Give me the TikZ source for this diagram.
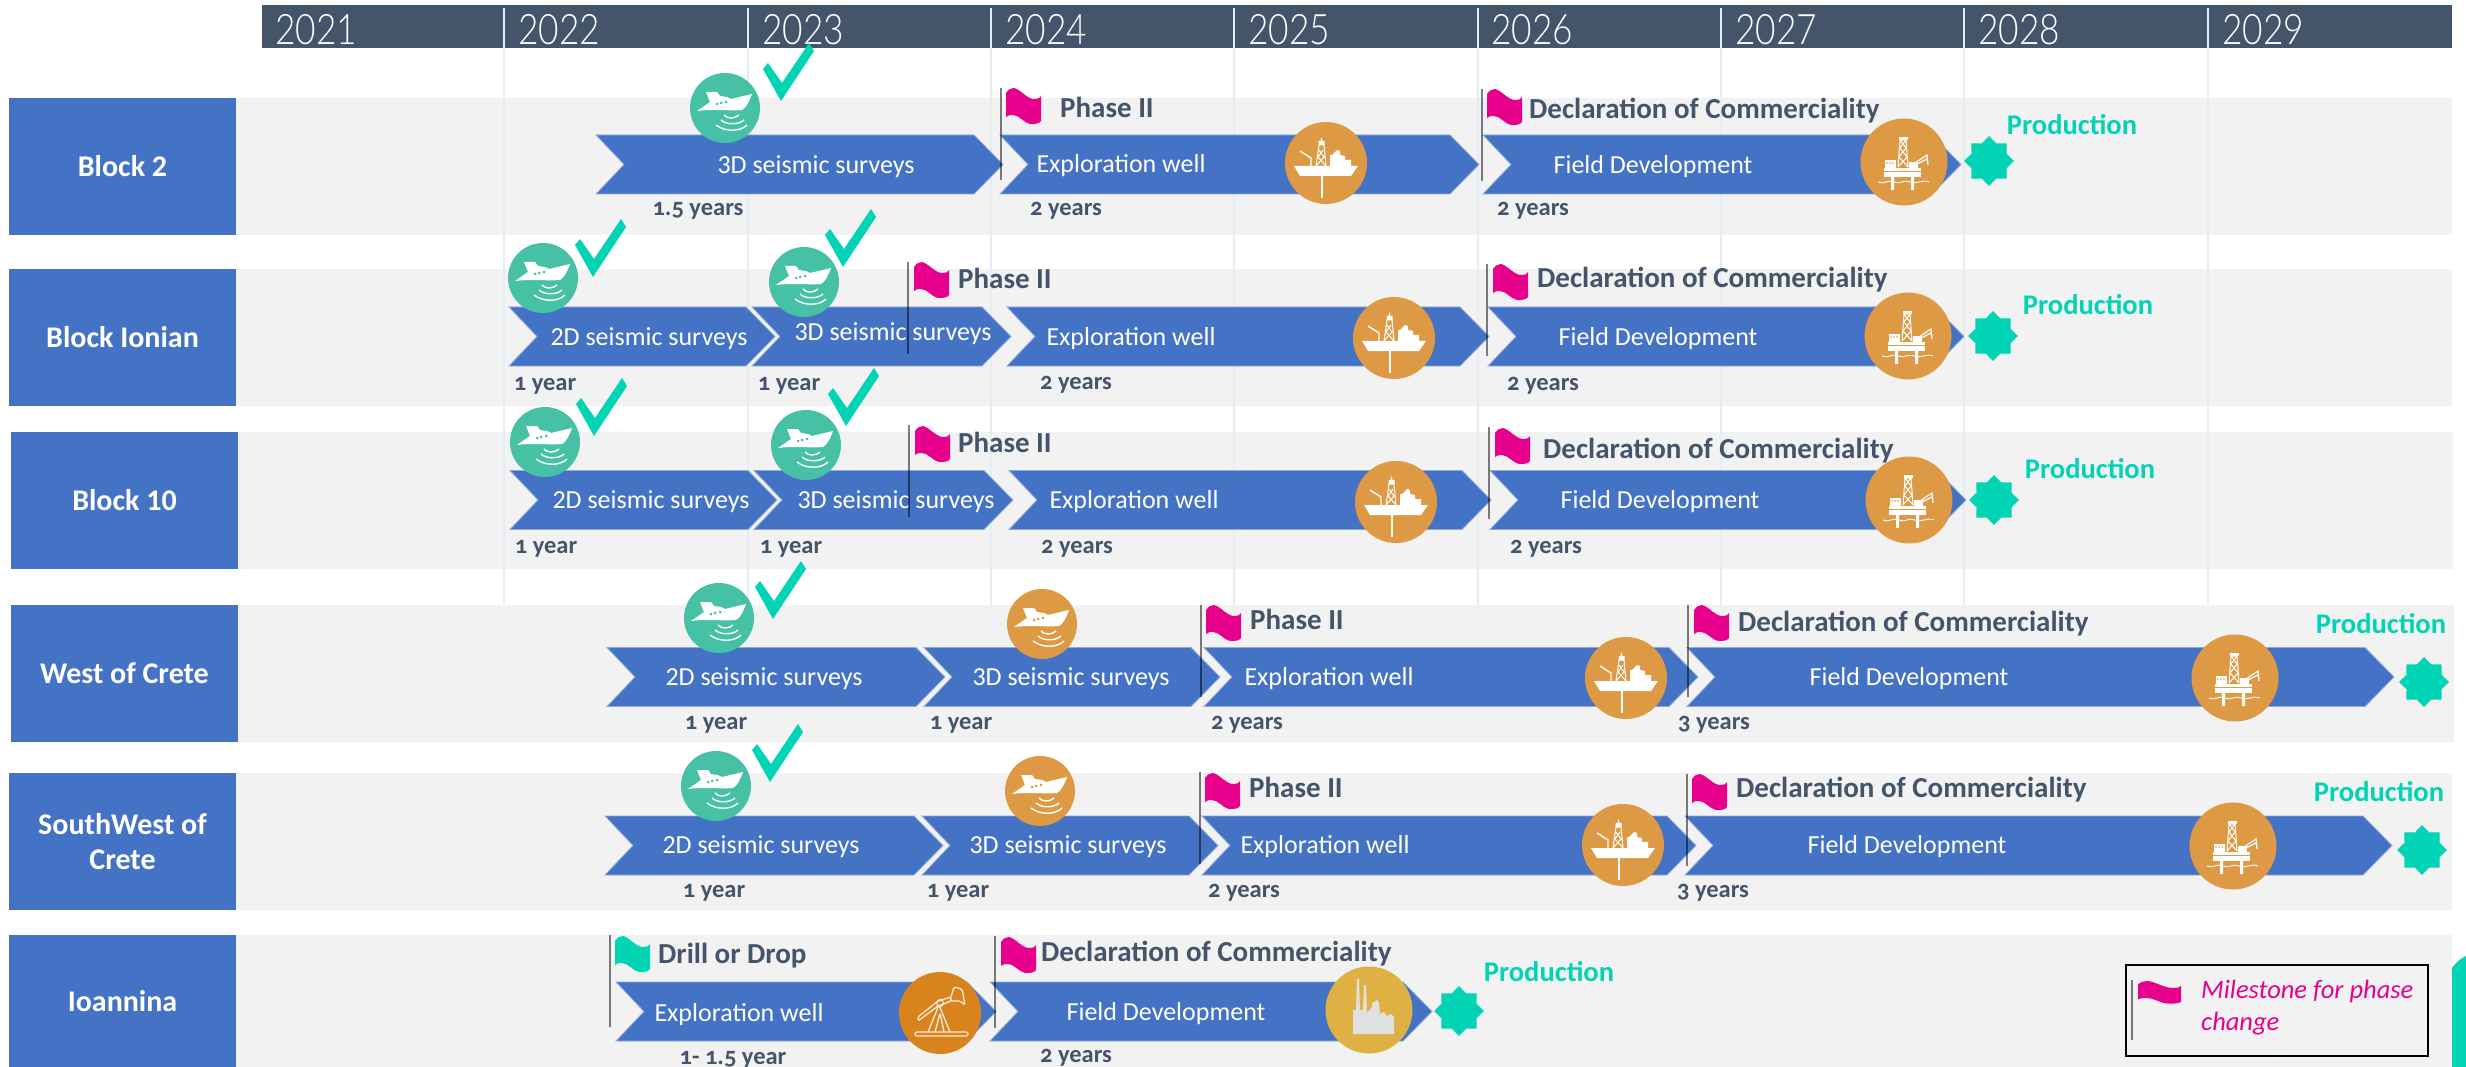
\documentclass[tikz,border=0pt]{standalone}
\usepackage{fontspec}
\setmainfont{Carlito}
\newfontfamily\durfont[Numbers=OldStyle]{Carlito}
\newfontfamily\yearfont[FakeStretch=0.84]{Lato Light}
\usetikzlibrary{shapes.geometric}
\definecolor{barslate}{HTML}{44546A}
\definecolor{bandgray}{HTML}{F2F2F2}
\definecolor{blockblue}{HTML}{4472C4}
\definecolor{edgeblue}{HTML}{8FAADC}
\definecolor{gridblue}{HTML}{E3EDF7}
\definecolor{shipteal}{HTML}{47C1A5}
\definecolor{donemint}{HTML}{00D4B4}
\definecolor{wellorange}{HTML}{DD9944}
\definecolor{pumporange}{HTML}{D8831C}
\definecolor{plantgold}{HTML}{DFB145}
\definecolor{flagpink}{HTML}{E6008C}

% One chevron: left end, tip, centre line
\newcommand{\chevron}[3]{\fill[chevron body] (#1,#3-29.5) -- (#2-29,#3-29.5) -- (#2,#3)
    -- (#2-29,#3+29.5) -- (#1,#3+29.5) -- (#1+28,#3) -- cycle;}

\tikzset{
    chevron body/.style={fill=blockblue, draw=edgeblue, line width=0.8pt},
    block box/.style={rectangle, fill=blockblue, text=white, minimum width=227, minimum height=137,
                      inner sep=0, align=center, font=\fontsize{30}{35}\selectfont\bfseries},
    year label/.style={anchor=west, text=white, inner sep=0, font=\yearfont\fontsize{42}{44}\selectfont},
    bar label/.style={text=white, inner sep=0, yshift=-1.5, font=\fontsize{26}{29}\selectfont},
    milestone label/.style={anchor=west, text=barslate, inner sep=0, yshift=-1.5, font=\fontsize{29}{32}\selectfont\bfseries},
    span label/.style={text=barslate, inner sep=0, yshift=-2.5, font=\durfont\fontsize{24.5}{27}\selectfont\bfseries},
    production label/.style={text=donemint, inner sep=0, font=\fontsize{28.5}{31}\selectfont\bfseries},
    survey disc/.style={circle, fill=shipteal, minimum size=70, inner sep=0},
    pending disc/.style={circle, fill=wellorange, minimum size=70, inner sep=0},
    well disc/.style={circle, fill=wellorange, minimum size=82, inner sep=0},
    rig disc/.style={circle, fill=wellorange, minimum size=87, inner sep=0},
    output star/.style={star, star points=8, star point ratio=1.32, fill=donemint, draw=none,
                        minimum size=50, inner sep=0},
    flag pole/.style={draw=black, draw opacity=0.5, line width=1.8pt},
    tick mark/.pic={\fill[donemint] (-18,-32) -- (-13,-38) -- (1,-18) -- (28,-58) -- (33,-50) -- (0,0) -- cycle;},
    milestone flag/.pic={\path[pic actions] (0,5) .. controls (3,1) and (5,0) .. (8,0)
        .. controls (14,1) and (22,12) .. (29,11) .. controls (32,11) and (34,10) .. (35,8) -- (35,33)
        .. controls (33,36) and (29,36) .. (24,36) .. controls (18,35) and (13,27) .. (7,27)
        .. controls (4,27) and (2,27) .. (0,29) -- cycle;},
    ship icon/.pic={
        \fill[white] (-28,3) -- (-15,-6) -- (-19,-16) -- (-8,-16) -- (-5,-12) -- (2,-11) -- (6,-9) -- (27,-14)
            .. controls (24,-6) and (21,0) .. (17,2) .. controls (6,3) and (-16,1) .. (-28,3) -- cycle;
        \fill[pic actions] (-8,-4) circle (1.5) (-4,-5) circle (1.5) (1,-6) circle (1.5);
        \draw[white, line width=1.4pt] (-1,7) .. controls (2,11) and (10,11) .. (14,7)
            (-4,12) .. controls (1,17) and (14,17) .. (19,12)
            (-9,17) .. controls (0,24) and (15,24) .. (22,17);},
    drillship icon/.pic={
        \fill[white] (-32,3) -- (32,3) -- (25,13) -- (-26,13) -- cycle;
        \fill[white] (-5,13) rectangle (-3,35);
        \fill[white] (4,3) -- (4,-8) -- (6,-8) -- (11,-13) -- (14,-12) -- (14,-8) -- (19,-7) -- (19,-3) -- (25,-3) -- (25,3) -- cycle;
        \draw[white, line width=1.4pt] (-26,-12) -- (-15,-5) -- (-15,3);
        \draw[white, line width=1pt] (-10,3) -- (-7,-18) -- (-2,-18) -- (0,3) (-10,3) -- (-2,-6) (0,3) -- (-8,-6) (-8,-6) -- (-3,-13) (-2,-6) -- (-7,-13);
        \fill[white] (-7.5,-18) rectangle (-1.5,-22) (-5.5,-22) -- (-4.5,-26) -- (-3.5,-22) -- cycle;},
    rig icon/.pic={
        \fill[white] (-20,6) rectangle (17,15);
        \fill[white] (-19,-2) rectangle (-8,6);
        \fill[white] (5,0) rectangle (14,6);
        \fill[wellorange] (-17,1) circle (0.9) (-14,1) circle (0.9) (-11,1) circle (0.9);
        \draw[wellorange, line width=0.8pt] (-20,9) -- (17,9);
        \draw[white, line width=1pt] (-6,5) -- (-4,-22) -- (2,-22) -- (4,5)
            (-6,5) -- (3,-5) (4,5) -- (-5,-5) (-5,-5) -- (2,-14) (3,-5) -- (-4,-14) (-4,-14) -- (2,-22) (2,-14) -- (-4,-22);
        \fill[white] (-5,-25) rectangle (4,-22);
        \draw[white, line width=1.2pt] (8,3) -- (23,-7) -- (24,3) (11,3) -- (23,-3);
        \fill[white] (-13,15) rectangle (-10,28) (7,15) rectangle (10,28);
        \draw[white, line width=0.9pt] (-26,20) .. controls (-20,23) and (-16,17) .. (-10,20)
            .. controls (-4,23) and (0,17) .. (6,20) .. controls (12,23) and (18,17) .. (25,20);},
    pump icon/.pic={
        \draw[white!85!pumporange, line width=1.3pt, rounded corners=1.5pt] (-25,19) -- (28,19) -- (28,23) -- (-25,23) -- cycle
            (-12,19) -- (-1,-8) -- (10,19) (-5,19) -- (0,0) -- (4,19)
            (-22,4) -- (-2,-12) -- (11,-16) -- (11,-12) -- (-2,-7) -- (-22,8) -- cycle
            (11,-16) -- (14,-26) -- (22,-24) -- (25,-8) -- (20,-12) -- (11,-12);
        \draw[white!85!pumporange, line width=1pt] (0,-10) circle (3.5);},
    plant icon/.pic={
        \fill[black!12] (-16,24) -- (-16,0) -- (-13,0) -- (-12,-31) -- (-10,-31) -- (-9,0) -- (-6,0) -- (-5,-25) -- (-3,-25)
            -- (-2,3) -- (3,-3) -- (3,-7) -- (8,-10) -- (10,-7) -- (11,4) -- (15,2) -- (18,6) -- (22,4) -- (25,7) -- (25,24) -- cycle;}
}

\begin{document}
\begin{tikzpicture}[x=1pt, y=-1pt]

    \useasboundingbox (0,0) rectangle (2466,1067);

    % Bands behind the rows
    \fill[bandgray] (236,98) rectangle (2452,235);
    \fill[bandgray] (236,269) rectangle (2452,406);
    \fill[bandgray] (238,432) rectangle (2453,569);
    \fill[bandgray] (238,605) rectangle (2454,742);
    \fill[bandgray] (236,773) rectangle (2452,910);
    \fill[bandgray] (236,935) rectangle (2452,1067);
    \fill[donemint] (2452,968) .. controls (2458,960) and (2462,958) .. (2466,956) -- (2466,1067) -- (2452,1067) -- cycle;

    % Year bar and its lines
    \fill[barslate] (262,5) rectangle (2452,48);
    \foreach \xpos in {504, 748, 991, 1234, 1478, 1721, 1964, 2208}
        \draw[gridblue, line width=1.2pt] (\xpos,8) -- (\xpos,605);
    \foreach \yr/\xpos in {2021/275, 2022/518, 2023/762, 2024/1005, 2025/1248, 2026/1491, 2027/1735, 2028/1978, 2029/2222}
        \node[year label] at (\xpos,30) (year\yr) {\yr};

    % Blocks
    \node[block box] at (122.5,166.5) (block2) {Block 2};
    \node[block box] at (122.5,337.5) (blockionian) {Block Ionian};
    \node[block box] at (124.5,500.5) (block10) {Block 10};
    \node[block box] at (124.5,673.5) (westcrete) {West of Crete};
    \node[block box] at (122.5,841.5) (southwest) {SouthWest of\\Crete};
    \node[block box, minimum height=132] at (122.5,1001) (ioannina) {Ioannina};

    % Chevrons of each row
    \chevron{596}{1003}{164.5} \chevron{1000}{1479}{164.5} \chevron{1483}{1961}{164.5}
    \chevron{509}{775}{336.5} \chevron{752}{1011}{336.5} \chevron{1007}{1489}{336.5} \chevron{1488}{1964}{336.5}
    \chevron{510}{777}{500} \chevron{754}{1013}{500} \chevron{1009}{1491}{500} \chevron{1490}{1966}{500}
    \chevron{607}{945}{677} \chevron{924}{1220}{677} \chevron{1204}{1698}{677} \chevron{1687}{2394}{677}
    \chevron{605}{943}{845.5} \chevron{922}{1218}{845.5} \chevron{1202}{1696}{845.5} \chevron{1685}{2392}{845.5}
    \chevron{616}{996}{1011.5} \chevron{990}{1432}{1011.5}

    % Text on the chevrons
    \node[bar label] at (816,165) (seismicA) {3D seismic surveys};
    \node[bar label] at (1121,164) (wellA) {Exploration well};
    \node[bar label] at (1653,165) (fieldA) {Field Development};
    \node[bar label] at (649,337) (seismicB) {2D seismic surveys};
    \node[bar label] at (893,332) (seismicC) {3D seismic surveys};
    \node[bar label] at (1131,337) (wellB) {Exploration well};
    \node[bar label] at (1658,337) (fieldB) {Field Development};
    \node[bar label] at (651,500) (seismicD) {2D seismic surveys};
    \node[bar label] at (896,500) (seismicE) {3D seismic surveys};
    \node[bar label] at (1134,500) (wellC) {Exploration well};
    \node[bar label] at (1660,500) (fieldC) {Field Development};
    \node[bar label] at (764,677) (seismicF) {2D seismic surveys};
    \node[bar label] at (1071,677) (seismicG) {3D seismic surveys};
    \node[bar label] at (1329,677) (wellD) {Exploration well};
    \node[bar label] at (1909,677) (fieldD) {Field Development};
    \node[bar label] at (761,845) (seismicH) {2D seismic surveys};
    \node[bar label] at (1068,845) (seismicI) {3D seismic surveys};
    \node[bar label] at (1325,845) (wellE) {Exploration well};
    \node[bar label] at (1907,845) (fieldE) {Field Development};
    \node[bar label] at (739,1013) (wellF) {Exploration well};
    \node[bar label] at (1166,1012) (fieldF) {Field Development};

    % Durations
    \node[span label] at (698,208) (spanA) {1.5 years};
    \node[span label] at (1066,208) (spanB) {2 years};
    \node[span label] at (1533,208) (spanC) {2 years};
    \node[span label] at (545,383) (spanD) {1 year};
    \node[span label] at (789,383) (spanE) {1 year};
    \node[span label] at (1076,382) (spanF) {2 years};
    \node[span label] at (1543,383) (spanG) {2 years};
    \node[span label] at (546,546) (spanH) {1 year};
    \node[span label] at (791,546) (spanI) {1 year};
    \node[span label] at (1077,546) (spanJ) {2 years};
    \node[span label] at (1546,546) (spanK) {2 years};
    \node[span label] at (716,722) (spanL) {1 year};
    \node[span label] at (961,722) (spanM) {1 year};
    \node[span label] at (1247,722) (spanN) {2 years};
    \node[span label] at (1714,722) (spanO) {3 years};
    \node[span label] at (714,890) (spanP) {1 year};
    \node[span label] at (958,890) (spanQ) {1 year};
    \node[span label] at (1244,890) (spanR) {2 years};
    \node[span label] at (1713,890) (spanS) {3 years};
    \node[span label] at (733,1057) (spanT) {1- 1.5 year};
    \node[span label] at (1076,1055) (spanU) {2 years};

    % Milestones: pole, flag, text
    \foreach \xpos/\ytop in {1001/88, 1482/89, 908/262, 1487/264, 909/425, 1489/427, 1201/605, 1688/605, 1200/772, 1687/774, 610/935, 995/936}
        \draw[flag pole] (\xpos,\ytop) -- ++(0,92);
    \pic[fill=flagpink] at (1006,88) {milestone flag};
    \pic[fill=flagpink] at (1487,89) {milestone flag};
    \pic[fill=flagpink] at (914,262) {milestone flag};
    \pic[fill=flagpink] at (1493,264) {milestone flag};
    \pic[fill=flagpink] at (915,426) {milestone flag};
    \pic[fill=flagpink] at (1495,428) {milestone flag};
    \pic[fill=flagpink] at (1206,605) {milestone flag};
    \pic[fill=flagpink] at (1694,605) {milestone flag};
    \pic[fill=flagpink] at (1205,773) {milestone flag};
    \pic[fill=flagpink] at (1692,774) {milestone flag};
    \pic[fill=donemint] at (615,936) {milestone flag};
    \pic[fill=flagpink] at (1001,937) {milestone flag};
    \node[milestone label] at (1060,106) (phaseA) {Phase II};
    \node[milestone label] at (1529,109) (declA) {Declaration of Commerciality};
    \node[milestone label] at (958,277) (phaseB) {Phase II};
    \node[milestone label] at (1537,278) (declB) {Declaration of Commerciality};
    \node[milestone label] at (958,441) (phaseC) {Phase II};
    \node[milestone label] at (1543,449) (declC) {Declaration of Commerciality};
    \node[milestone label] at (1250,618) (phaseD) {Phase II};
    \node[milestone label] at (1738,622) (declD) {Declaration of Commerciality};
    \node[milestone label] at (1249,786) (phaseE) {Phase II};
    \node[milestone label] at (1736,788) (declE) {Declaration of Commerciality};
    \node[milestone label] at (658,954) (drillF) {Drill or Drop};
    \node[milestone label] at (1041,952) (declF) {Declaration of Commerciality};

    % Survey discs
    \node[survey disc] at (725,108) (discA) {};
    \node[survey disc] at (543,278) (discB) {};
    \node[survey disc] at (804,282) (discC) {};
    \node[survey disc] at (545,442) (discD) {};
    \node[survey disc] at (806,445) (discE) {};
    \node[survey disc] at (719,618) (discF) {};
    \node[survey disc] at (716,786) (discH) {};
    \foreach \disc in {discA, discB, discC, discD, discE, discF, discH}
        \pic[fill=shipteal] at (\disc) {ship icon};
    \node[pending disc] at (1042,624) (discG) {};
    \node[pending disc] at (1040,791) (discI) {};
    \foreach \disc in {discG, discI}
        \pic[fill=wellorange] at (\disc) {ship icon};
    \pic at (781,101) {tick mark};
    \pic at (593,277) {tick mark};
    \pic at (843,267) {tick mark};
    \pic at (594,436) {tick mark};
    \pic at (846,426) {tick mark};
    \pic at (773,619) {tick mark};
    \pic at (770,782) {tick mark};

    % Well and rig discs
    \node[well disc] at (1326,163) (shipA) {};
    \node[well disc] at (1394,338) (shipB) {};
    \node[well disc] at (1396,502) (shipC) {};
    \node[well disc] at (1626,678) (shipD) {};
    \node[well disc] at (1623,845) (shipE) {};
    \foreach \disc in {shipA, shipB, shipC, shipD, shipE}
        \pic at (\disc) {drillship icon};
    \node[rig disc] at (1904,162) (rigA) {};
    \node[rig disc] at (1908,336) (rigB) {};
    \node[rig disc] at (1909,500) (rigC) {};
    \node[rig disc] at (2235,678) (rigD) {};
    \node[rig disc] at (2233,846) (rigE) {};
    \foreach \disc in {rigA, rigB, rigC, rigD, rigE}
        \pic at (\disc) {rig icon};
    \node[well disc, fill=pumporange] at (940,1013) (pump) {};
    \pic at (pump) {pump icon};
    \node[rig disc, fill=plantgold] at (1369,1010) (plant) {};
    \pic at (plant) {plant icon};

    % Production
    \node[output star] at (1989,161) (starA) {};
    \node[output star] at (1993,336) (starB) {};
    \node[output star] at (1994,500) (starC) {};
    \node[output star] at (2424,682) (starD) {};
    \node[output star] at (2422,850) (starE) {};
    \node[output star] at (1459,1011) (starF) {};
    \node[production label] at (2072,125) (prodA) {Production};
    \node[production label] at (2088,305) (prodB) {Production};
    \node[production label] at (2090,469) (prodC) {Production};
    \node[production label] at (2381,624) (prodD) {Production};
    \node[production label] at (2379,792) (prodE) {Production};
    \node[production label] at (1549,972) (prodF) {Production};

    % Legend
    \node[draw=black, line width=2pt, minimum width=302, minimum height=91, inner sep=0] at (2277,1010.5) (legend) {};
    \draw[flag pole] (2132,980) -- (2132,1040);
    \pic[fill=flagpink, xscale=1.23, yscale=0.63] at (2138,981) {milestone flag};
    \node[anchor=west, text=flagpink, inner sep=0, align=left, font=\fontsize{26.5}{32}\selectfont\itshape] at (2201,1008) (legendtext) {Milestone for phase\\change};

\end{tikzpicture}
\end{document}
